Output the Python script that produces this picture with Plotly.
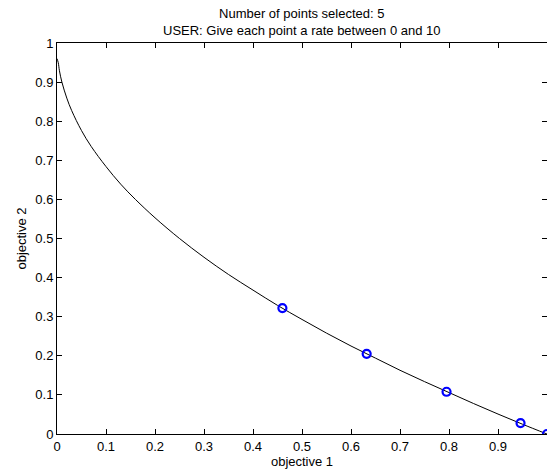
import plotly.graph_objects as go

# Pareto front curve
front_x = [0.0, 0.0025, 0.005, 0.01, 0.02, 0.03, 0.05, 0.07, 0.1, 0.13, 0.16, 0.2, 0.25,
           0.3, 0.35, 0.4, 0.45, 0.5, 0.55, 0.6, 0.65, 0.7, 0.75, 0.8, 0.85, 0.9, 0.95, 1.0]
front_y = [0.96, 0.95, 0.929, 0.9, 0.859, 0.827, 0.776, 0.735, 0.684, 0.639, 0.6, 0.553, 0.5,
           0.452, 0.408, 0.368, 0.329, 0.293, 0.258, 0.225, 0.194, 0.163, 0.134, 0.106, 0.078,
           0.051, 0.025, 0.0]

# Selected points
sel_x = [0.46, 0.632, 0.795, 0.946, 1.0]
sel_y = [0.322, 0.205, 0.108, 0.028, 0.0]

tick_vals = [0, 0.1, 0.2, 0.3, 0.4, 0.5, 0.6, 0.7, 0.8, 0.9, 1]
tick_text = ["0", "0.1", "0.2", "0.3", "0.4", "0.5", "0.6", "0.7", "0.8", "0.9", "1"]

title_lines = ["Number of points selected: 5", "USER: Give each point a rate between 0 and 10"]

fig = go.Figure()
fig.add_trace(go.Scatter(x=front_x, y=front_y, mode="lines", line=dict(color="black", width=1, shape="spline"),
                         showlegend=False, hoverinfo="skip"))
fig.add_trace(go.Scatter(x=sel_x, y=sel_y, mode="markers",
                         marker=dict(symbol="circle-open", size=8, color="#0000ff", line=dict(width=2.2, color="#0000ff")),
                         showlegend=False))

family = "Liberation Sans, Arial, sans-serif"
font = dict(family=family, size=13, color="black")
axis_common = dict(range=[0, 1], showgrid=False, zeroline=False, showline=True, linecolor="black", linewidth=1,
                   mirror="ticks", ticks="inside", ticklen=5, tickcolor="black", tickwidth=1,
                   tickvals=tick_vals, ticktext=tick_text, tickfont=font)

plot_h = 470 - 43 - 36
title_center_px = 22
annotations = [dict(text="<br>".join(title_lines), xref="paper", yref="paper", x=0.5,
                    y=1 + (43 - title_center_px) / plot_h, xanchor="center", yanchor="middle",
                    showarrow=False, font=font)]

fig.update_layout(
    width=547, height=470,
    margin=dict(l=57, r=0, t=43, b=36),
    paper_bgcolor="white", plot_bgcolor="white",
    font=font,
    annotations=annotations,
    xaxis=dict(**axis_common, title=dict(text="objective 1", font=font, standoff=0)),
    yaxis=dict(**axis_common, title=dict(text="objective 2", font=font, standoff=5)),
)

fig.write_html("out.html")
